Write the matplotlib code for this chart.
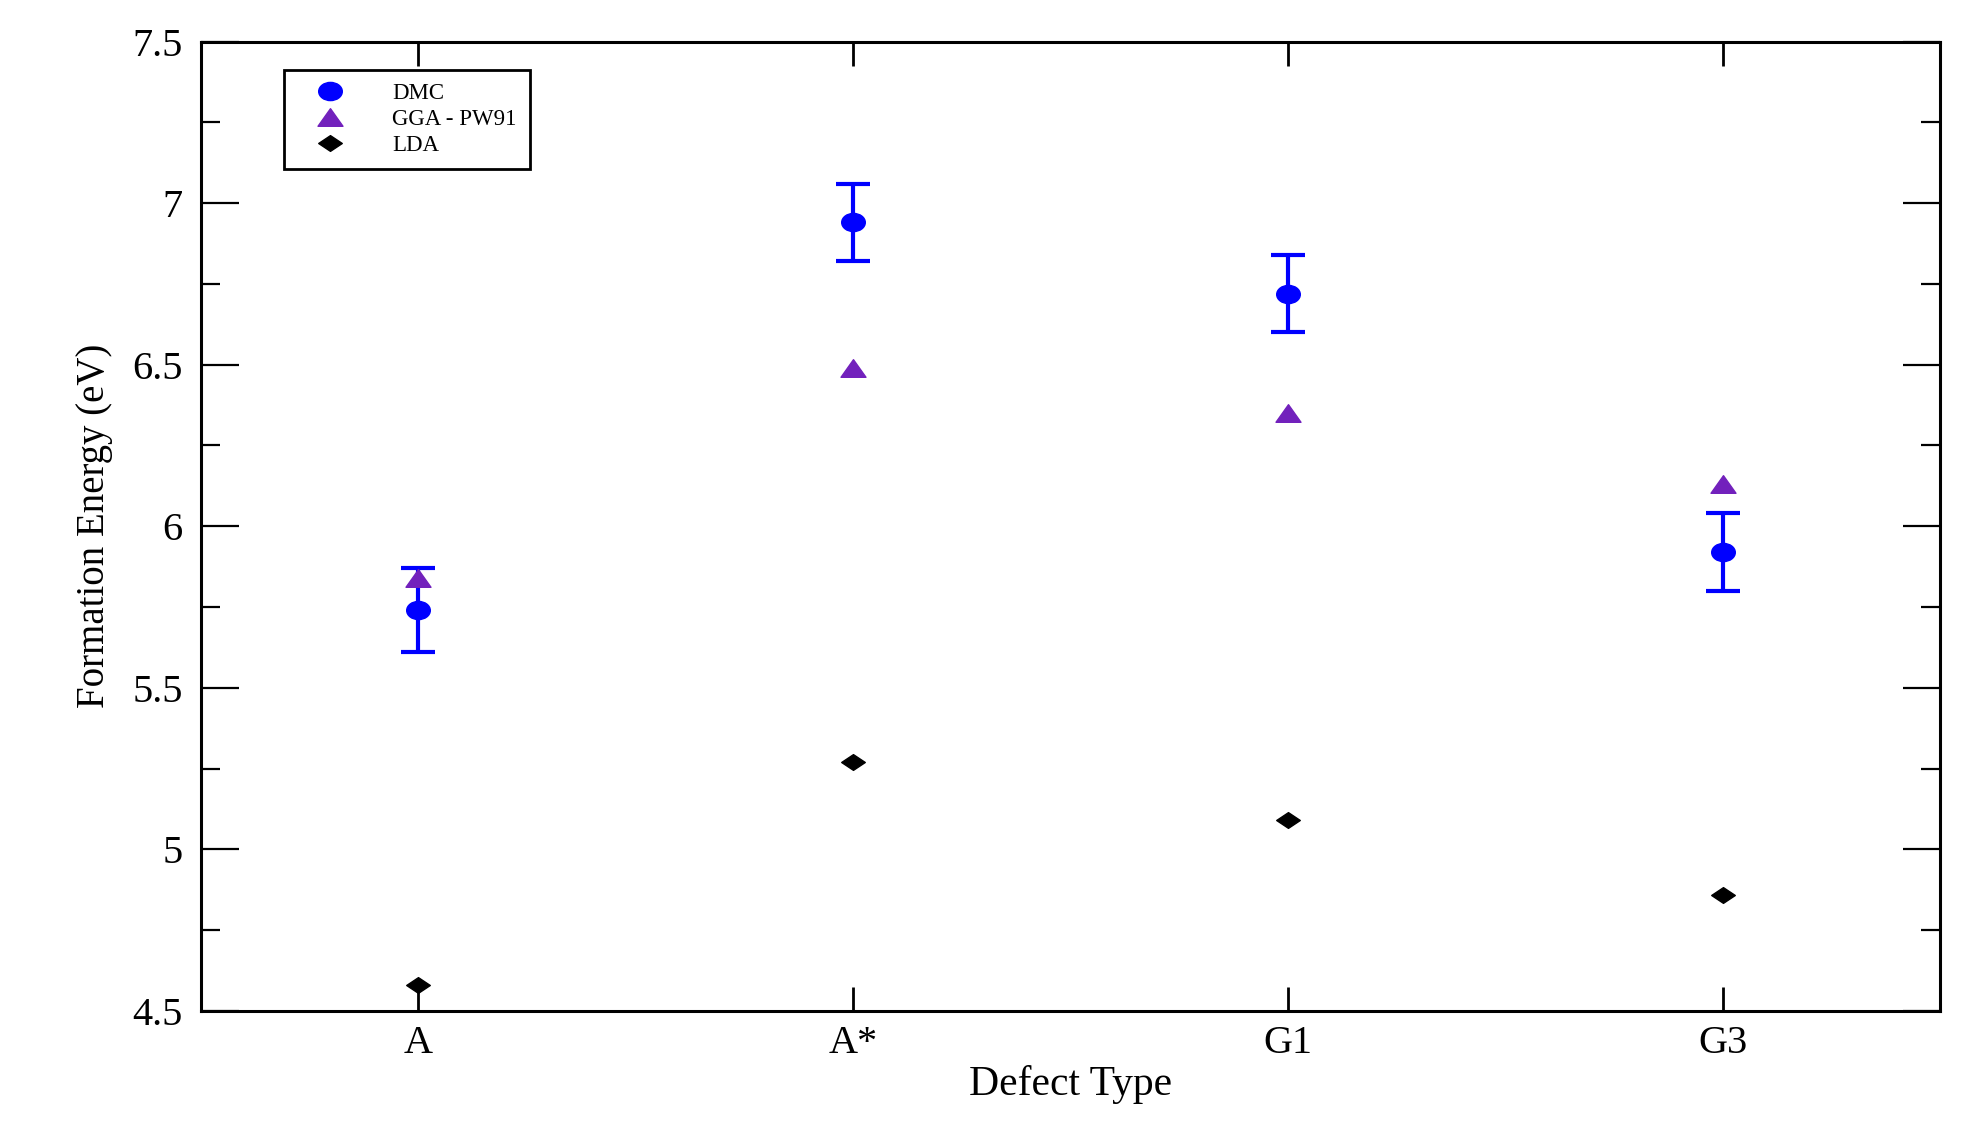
import numpy as np
import matplotlib
matplotlib.use("Agg")
import matplotlib.pyplot as plt
from matplotlib.path import Path
from matplotlib.ticker import MultipleLocator, FormatStrFormatter

# data
defects = ["A", "A*", "G1", "G3"]
dmc = [5.74, 6.94, 6.72, 5.92]
dmc_err = [0.13, 0.12, 0.12, 0.12]
gga = [5.84, 6.49, 6.35, 6.13]
lda = [4.58, 5.27, 5.09, 4.86]

plt.rcParams['font.family'] = ['Liberation Serif', 'DejaVu Serif']

# the original looks stretched sideways, so the markers are too
circ = Path.unit_circle()
ellipse = Path(circ.vertices * [1.3, 1.0], circ.codes)
tri = Path([(-0.71, -0.5), (0.71, -0.5), (0.0, 0.5), (-0.71, -0.5)],
           [Path.MOVETO, Path.LINETO, Path.LINETO, Path.CLOSEPOLY])
diam = Path([(-0.75, 0.0), (0.0, 0.5), (0.75, 0.0), (0.0, -0.5), (-0.75, 0.0)],
            [Path.MOVETO, Path.LINETO, Path.LINETO, Path.LINETO, Path.CLOSEPOLY])

fig = plt.figure(figsize=(19.7, 11.22), dpi=100)
ax = fig.add_axes([0.102, 0.099, 0.883, 0.864])

x = np.arange(1, len(defects) + 1)

ax.errorbar(x, dmc, yerr=dmc_err, fmt='none', ecolor='#0000ff',
            elinewidth=3, capsize=12.5, capthick=3, zorder=2)
ax.plot(x, dmc, linestyle='none', marker=ellipse, markersize=17,
        color='#0000ff', label='DMC', zorder=3)
ax.plot(x, gga, linestyle='none', marker=tri, markersize=18,
        color='#7221bc', label='GGA - PW91', zorder=4)
ax.plot(x, lda, linestyle='none', marker=diam, markersize=17,
        color='black', label='LDA', zorder=4)

ax.set_xlim(0.5, 4.5)
ax.set_ylim(4.5, 7.5)
ax.set_xticks(x)
ax.set_xticklabels(defects)
ax.yaxis.set_major_locator(MultipleLocator(0.5))
ax.yaxis.set_minor_locator(MultipleLocator(0.25))
ax.yaxis.set_major_formatter(FormatStrFormatter('%g'))

ax.tick_params(axis='x', which='major', direction='in', top=True, bottom=True,
               length=17, width=2, labelsize=29, pad=10)
ax.tick_params(axis='y', which='major', direction='in', left=True, right=True,
               length=27, width=1.6, labelsize=29, pad=13)
ax.tick_params(axis='y', which='minor', direction='in', left=True, right=True,
               length=13.5, width=1.6)
for sp in ax.spines.values():
    sp.set_linewidth(2.2)

ax.set_xlabel('Defect Type', fontsize=30, labelpad=2)
ax.set_ylabel('Formation Energy (eV)', fontsize=28, labelpad=14)

leg = ax.legend(loc='upper left', bbox_to_anchor=(0.048, 0.971), fontsize=16.5,
                frameon=True, fancybox=False, framealpha=1, edgecolor='black',
                handlelength=2.8, handletextpad=1.3, labelspacing=0.2,
                borderpad=0.6, borderaxespad=0)
leg.get_frame().set_linewidth(2)

fig.savefig('out.png', dpi=100)
